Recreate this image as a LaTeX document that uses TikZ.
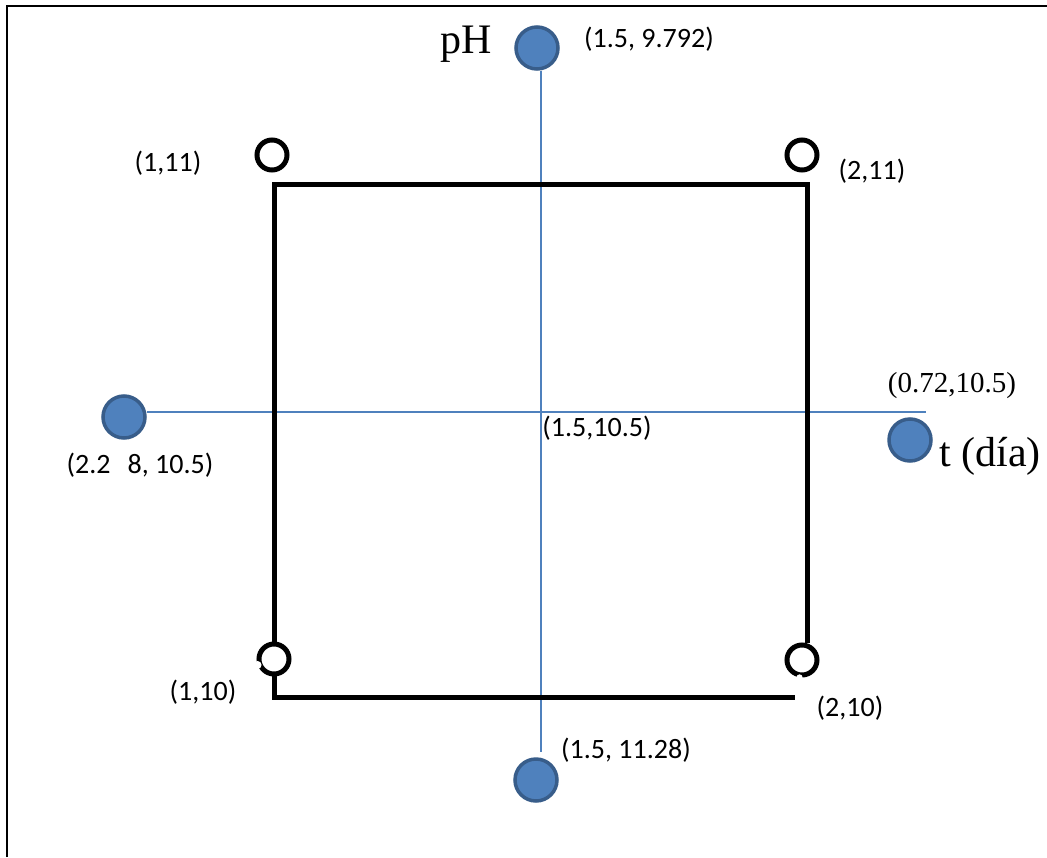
\documentclass[tikz,border=0pt]{standalone}
\usepackage{fontspec}
\setmainfont{Carlito}
\newfontfamily\romanfont{Liberation Serif}
\usetikzlibrary{backgrounds}
\definecolor{dotblue}{HTML}{4F81BD}
\definecolor{dotedge}{HTML}{385D8A}

\tikzset{
  dot/.style={circle, fill=dotblue, draw=dotedge, line width=3.5pt, minimum size=42pt, inner sep=0pt},
  ring/.style={circle, fill=white, draw=black, line width=5pt, minimum size=30pt, inner sep=0pt},
  axis/.style={dotblue, line width=1.8pt},
  lbl/.style={font=\fontsize{28}{30}\selectfont, inner sep=0pt},
  romanlbl/.style={font=\romanfont\fontsize{29}{32}\selectfont, inner sep=0pt},
  biglbl/.style={font=\romanfont\fontsize{42}{46}\selectfont, inner sep=0pt}
}

\begin{document}
\begin{tikzpicture}[x=1pt,y=-1pt]
            \useasboundingbox (0,0) rectangle (1047,857);
            \draw[line width=2.5pt] (7,857) -- (7,6) -- (1047,6);

            % points of the design
            \node[dot] (phdot) at (537,48) {};
            \node[dot] (ldot) at (124,417) {};
            \node[dot] (rdot) at (910,440) {};
            \node[dot] (bdot) at (536,780) {};
            \coordinate (vend) at (541,752);
            \coordinate (hend) at (926,412);
            \begin{scope}[on background layer]
                \draw[axis] (phdot.south -| vend) -- (vend);
                \draw[axis] (ldot.east |- hend) -- (hend);
            \end{scope}

            % square
            \draw[line width=5pt] (807,643) -- (807,184) -- (274,184) -- (274,697) -- (795,697);
            \node[ring] (c11) at (272,155) {};
            \node[ring] (c21) at (802,155) {};
            \node[ring] (c10) at (274,659) {};
            \node[ring] (c20) at (802,660) {};
            \fill[white] (c10.200) circle (4pt);
            \fill[white] (c20.262) circle (3pt);

            \node[lbl] (l11) at (168,163) {(1,11)};
            \node[lbl] (l21) at (872,171) {(2,11)};
            \node[lbl] (l10) at (203,692) {(1,10)};
            \node[lbl] (l20) at (850,708) {(2,10)};
            \node[lbl] (ltop) at (649,39) {(1.5, 9.792)};
            \node[lbl] (lbot) at (626,750) {(1.5, 11.28)};
            \node[lbl] (lcen) at (597,428) {(1.5,10.5)};
            \node[lbl] (lleft) at (140,465) {(2.2\hspace{17pt}8, 10.5)};
            \node[romanlbl] (lright) at (952,386) {(0.72,10.5)};
            \node[biglbl] (tlbl) at (990,456) {t (día)};
            \node[biglbl] (phlbl) at (466,44) {pH};
        \end{tikzpicture}
\end{document}
